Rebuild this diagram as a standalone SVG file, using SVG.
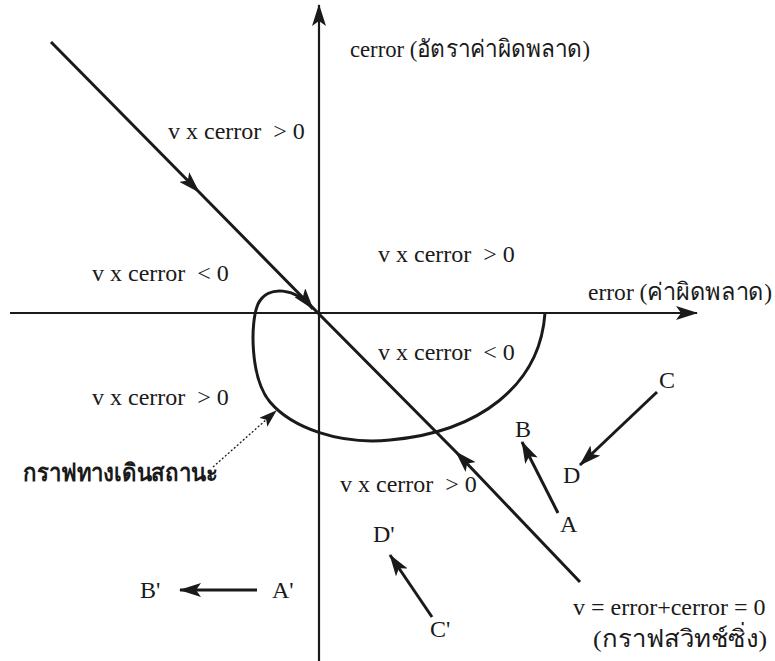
<svg xmlns="http://www.w3.org/2000/svg" width="775" height="661" viewBox="0 0 775 661">
  <style>
    .t { font-family: "Liberation Serif", "Noto Sans", serif; font-size: 24px; fill: #1a1a1a; white-space: pre; }
    .b { font-weight: bold; }
    .ax { stroke: #1a1a1a; stroke-width: 2.2; fill: none; }
    .ln { stroke: #1a1a1a; stroke-width: 3; fill: none; }
    .dot { stroke: #1a1a1a; stroke-width: 1.3; stroke-dasharray: 2 2; fill: none; }
  </style>
  <defs>
    <marker id="ah" viewBox="0 0 22 14" refX="21" refY="7" markerWidth="22" markerHeight="14" markerUnits="userSpaceOnUse" orient="auto">
      <path d="M0,0 L22,7 L0,14 L5,7 z" fill="#1a1a1a"/>
    </marker>
    <marker id="ahs" viewBox="0 0 18 12" refX="17" refY="6" markerWidth="18" markerHeight="12" markerUnits="userSpaceOnUse" orient="auto">
      <path d="M0,0 L18,6 L0,12 L4,6 z" fill="#1a1a1a"/>
    </marker>
  </defs>
  <rect width="775" height="661" fill="#ffffff"/>

  <g id="connectors">
    <path id="axis-cerror" class="ax" d="M319,661 L319,5" marker-end="url(#ah)"/>
    <path id="axis-error" class="ax" d="M10,313 L697,313" marker-end="url(#ah)"/>
    <path id="switch-upper" class="ln" d="M51,42 L199,192 L318,313" marker-mid="url(#ah)"/>
    <path id="switch-lower" class="ln" d="M580,582 L456,452 L318,313" marker-mid="url(#ah)"/>
    <path id="trajectory" class="ln" d="M545,313 C540,385 480,432 390,440 C340,445 292,428 270,402 C250,378 250,322 258,304 C268,284 296,288 313,309" marker-end="url(#ah)"/>
    <path id="pointer" class="dot" d="M213,467 L276,411" marker-end="url(#ahs)"/>
    <path id="arrow-AB" class="ln" d="M558,513 L522,442" marker-end="url(#ah)"/>
    <path id="arrow-CD" class="ln" d="M657,392 L580,465" marker-end="url(#ah)"/>
    <path id="arrow-CpDp" class="ln" d="M432,617 L390,555" marker-end="url(#ah)"/>
    <path id="arrow-ApBp" class="ln" d="M257,590 L180,590" marker-end="url(#ah)"/>
  </g>

  <g id="label-cerror"><text class="t" x="350" y="57" textLength="240" lengthAdjust="spacingAndGlyphs">cerror (อัตราค่าผิดพลาด)</text></g>
  <g id="label-error"><text class="t" x="588" y="300" textLength="184" lengthAdjust="spacingAndGlyphs">error (ค่าผิดพลาด)</text></g>
  <g id="region-1"><text class="t" x="168" y="139">v x cerror  &gt; 0</text></g>
  <g id="region-2"><text class="t" x="378" y="262">v x cerror  &gt; 0</text></g>
  <g id="region-3"><text class="t" x="92" y="281">v x cerror  &lt; 0</text></g>
  <g id="region-4"><text class="t" x="378" y="360">v x cerror  &lt; 0</text></g>
  <g id="region-5"><text class="t" x="92" y="405">v x cerror  &gt; 0</text></g>
  <g id="region-6"><text class="t" x="340" y="492">v x cerror  &gt; 0</text></g>
  <g id="label-trajectory"><text class="t b" x="23" y="481" textLength="195" lengthAdjust="spacingAndGlyphs">กราฟทางเดินสถานะ</text></g>
  <g id="label-switch">
    <text class="t" x="573" y="615">v = error+cerror = 0</text>
    <text class="t" x="593" y="647" textLength="174" lengthAdjust="spacingAndGlyphs">(กราฟสวิทช์ซิ่ง)</text>
  </g>
  <g id="pt-A"><text class="t" x="560" y="532">A</text></g>
  <g id="pt-B"><text class="t" x="515" y="437">B</text></g>
  <g id="pt-C"><text class="t" x="659" y="388">C</text></g>
  <g id="pt-D"><text class="t" x="563" y="483">D</text></g>
  <g id="pt-Ap"><text class="t" x="272" y="598">A'</text></g>
  <g id="pt-Bp"><text class="t" x="140" y="598">B'</text></g>
  <g id="pt-Cp"><text class="t" x="430" y="637">C'</text></g>
  <g id="pt-Dp"><text class="t" x="373" y="542">D'</text></g>
</svg>
